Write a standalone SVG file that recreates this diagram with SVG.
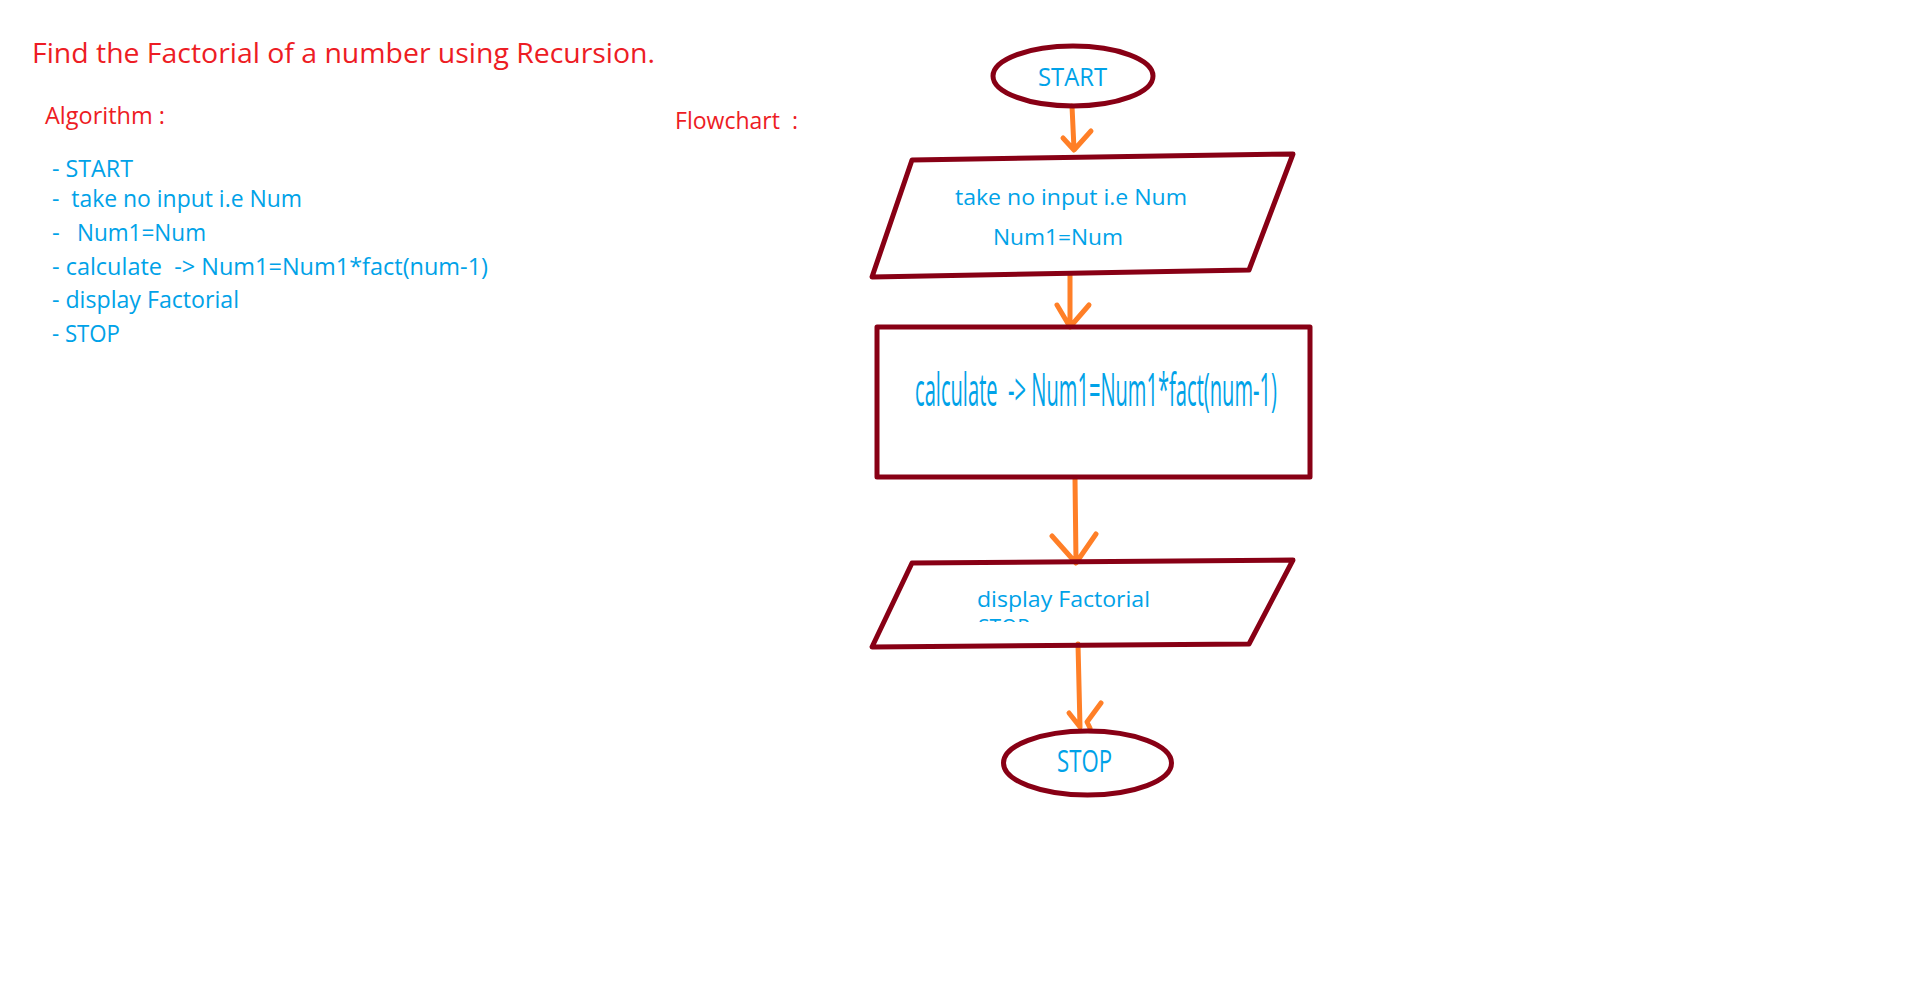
<svg xmlns="http://www.w3.org/2000/svg" width="1911" height="994" viewBox="0 0 1911 994" xml:space="preserve">
<style>
text{white-space:pre}
.red{fill:#ED1C24;font-family:"Open Sans","Noto Sans",sans-serif}
.blue{fill:#00A2E8;font-family:"Open Sans","Noto Sans",sans-serif}
.shape{fill:none;stroke:#880015;stroke-width:5;stroke-linejoin:round;stroke-linecap:round}
.conn{fill:none;stroke:#FF7F27;stroke-width:5;stroke-linecap:round;stroke-linejoin:round}
</style>
<defs>
<clipPath id="fragclip"><rect x="970" y="616" width="70" height="6"/></clipPath>
</defs>
<rect x="0" y="0" width="1911" height="994" fill="#ffffff"/>
<g id="header">
<text class="red" x="32" y="63" font-size="28" textLength="623" lengthAdjust="spacingAndGlyphs">Find the Factorial of a number using Recursion.</text>
<text class="red" x="45" y="124" font-size="24" textLength="120" lengthAdjust="spacingAndGlyphs">Algorithm :</text>
<text class="red" x="675" y="129" font-size="24" textLength="123" lengthAdjust="spacingAndGlyphs">Flowchart  :</text>
</g>
<g id="algorithm">
<text class="blue" x="52" y="177" font-size="24" textLength="81" lengthAdjust="spacingAndGlyphs">- START</text>
<text class="blue" x="52" y="207" font-size="24" textLength="250" lengthAdjust="spacingAndGlyphs">-  take no input i.e Num</text>
<text class="blue" x="52" y="241" font-size="24">-</text>
<text class="blue" x="77" y="241" font-size="24" textLength="129" lengthAdjust="spacingAndGlyphs">Num1=Num</text>
<text class="blue" x="52" y="275" font-size="24" textLength="436" lengthAdjust="spacingAndGlyphs">- calculate  -&gt; Num1=Num1*fact(num-1)</text>
<text class="blue" x="52" y="308" font-size="24" textLength="187" lengthAdjust="spacingAndGlyphs">- display Factorial</text>
<text class="blue" x="52" y="342" font-size="24" textLength="68" lengthAdjust="spacingAndGlyphs">- STOP</text>
</g>
<g id="connectors">
<path class="conn" d="M1072,106 L1074,149 M1063,138 L1074,150 L1091,131"/>
<path class="conn" d="M1070,274 L1070,326 M1057,305 L1070,327 L1089,305"/>
<path class="conn" d="M1075,478 L1076,562 M1052,536 L1076,563 L1096,534"/>
<path class="conn" d="M1078,644 L1080,727 M1069,713 L1080,727 M1101,703 L1087,722 L1090,728"/>
</g>
<g id="node-start">
<ellipse class="shape" cx="1073" cy="76" rx="80" ry="30"/>
<text class="blue" x="1038" y="86" font-size="25" textLength="69" lengthAdjust="spacingAndGlyphs">START</text>
</g>
<g id="node-input">
<polygon class="shape" points="912,160 1293,154 1249,270 872,277"/>
<text class="blue" x="955" y="205" font-size="21" textLength="232" lengthAdjust="spacingAndGlyphs">take no input i.e Num</text>
<text class="blue" x="993" y="245" font-size="21" textLength="130" lengthAdjust="spacingAndGlyphs">Num1=Num</text>
</g>
<g id="node-calculate">
<rect class="shape" x="877" y="327" width="433" height="150"/>
<text class="blue" x="915" y="406" font-size="46" textLength="362" lengthAdjust="spacingAndGlyphs">calculate  -&gt; Num1=Num1*fact(num-1)</text>
</g>
<g id="node-display">
<polygon class="shape" points="912,563 1293,560 1249,644 872,647"/>
<text class="blue" x="977" y="607" font-size="21" textLength="173" lengthAdjust="spacingAndGlyphs">display Factorial</text>
<g clip-path="url(#fragclip)">
<text class="blue" x="978" y="635" font-size="21" textLength="52" lengthAdjust="spacingAndGlyphs">STOP</text>
</g>
</g>
<g id="node-stop">
<ellipse class="shape" cx="1087.5" cy="763" rx="84" ry="32"/>
<text class="blue" x="1057" y="772" font-size="31" textLength="55" lengthAdjust="spacingAndGlyphs">STOP</text>
</g>
</svg>
